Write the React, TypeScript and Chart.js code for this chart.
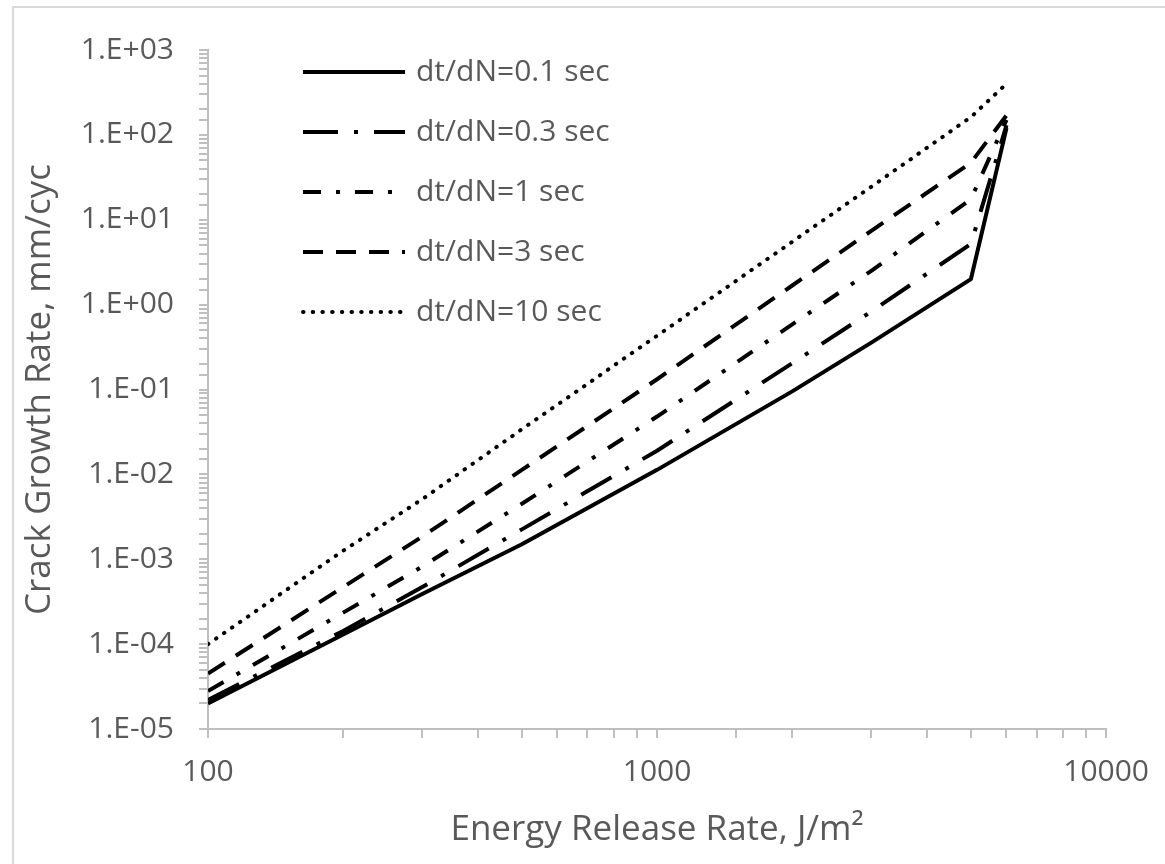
import React, { useEffect, useRef } from "react";
import { Chart, registerables } from "chart.js";

Chart.register(...registerables);

// Energy release rate G, J/m^2
const energyRelease = [100, 200, 300, 500, 1000, 2000, 3000, 5000, 6000];
// Crack growth rate, mm/cyc, for each dt/dN
const rate01 = [2.0e-5, 1.3e-4, 3.9e-4, 1.5e-3, 0.0113, 0.095, 0.357, 2.0, 120];
const rate03 = [2.2e-5, 1.43e-4, 4.7e-4, 2.25e-3, 0.019, 0.204, 0.83, 5.2, 130];
const rate1 = [2.8e-5, 2.35e-4, 8.2e-4, 4.5e-3, 0.048, 0.585, 2.5, 17.5, 150];
const rate3 = [4.5e-5, 4.7e-4, 1.85e-3, 0.0113, 0.132, 1.68, 7.4, 47, 170];
const rate10 = [1.0e-4, 1.26e-3, 5.1e-3, 0.034, 0.43, 5.5, 24.5, 162, 400];

const seriesNames = ["dt/dN=0.1 sec", "dt/dN=0.3 sec", "dt/dN=1 sec", "dt/dN=3 sec", "dt/dN=10 sec"];

const xTickValues = [100, 1000, 10000];
const xTickLabels = ["100", "1000", "10000"];
const yTickValues = [1e-5, 1e-4, 1e-3, 1e-2, 1e-1, 1, 10, 100, 1000];
const yTickLabels = ["1.E-05", "1.E-04", "1.E-03", "1.E-02", "1.E-01", "1.E+00", "1.E+01", "1.E+02", "1.E+03"];

const FONT = "'Open Sans', 'DejaVu Sans', sans-serif";
const TEXT = "#595959";
const AXIS = "#bfbfbf";

function labelFor(value: number, vals: number[], labels: string[]) {
  for (let i = 0; i < vals.length; i++) {
    if (Math.abs(Math.log10(value) - Math.log10(vals[i])) < 1e-6) return labels[i];
  }
  return "";
}

const insideLegend = {
  id: "insideLegend",
  afterDatasetsDraw(chart: any) {
    const ctx = chart.ctx;
    ctx.save();
    chart.data.datasets.forEach((ds: any, i: number) => {
      const y = 72 + i * 60;
      ctx.beginPath();
      ctx.setLineDash(ds.borderDash || []);
      ctx.lineCap = ds.borderCapStyle || "butt";
      ctx.lineWidth = ds.borderWidth;
      ctx.strokeStyle = ds.borderColor;
      ctx.moveTo(303, y);
      ctx.lineTo(405, y);
      ctx.stroke();
      ctx.setLineDash([]);
      ctx.fillStyle = TEXT;
      ctx.font = `30px ${FONT}`;
      ctx.textBaseline = "middle";
      ctx.textAlign = "left";
      ctx.fillText(ds.label, 416, y);
    });
    ctx.restore();
  },
};

export default function App() {
  const ref = useRef<HTMLCanvasElement | null>(null);

  useEffect(() => {
    if (!ref.current) return;
    const mk = (ys: number[]) => energyRelease.map((x, i) => ({ x, y: ys[i] }));
    const styles = [
      { dash: [], cap: "butt" },
      { dash: [35, 16, 4, 16], cap: "butt" },
      { dash: [18, 15, 4, 15], cap: "butt" },
      { dash: [20, 13], cap: "butt" },
      { dash: [0.5, 9.2], cap: "round" },
    ];
    const all = [rate01, rate03, rate1, rate3, rate10];
    const chart = new Chart(ref.current, {
      type: "line",
      data: {
        datasets: all.map((ys, i) => ({
          label: seriesNames[i],
          data: mk(ys),
          borderColor: "#000000",
          backgroundColor: "#000000",
          borderWidth: 4,
          borderDash: styles[i].dash,
          borderCapStyle: styles[i].cap as any,
          borderJoinStyle: "round" as any,
          pointRadius: 0,
          fill: false,
          tension: 0,
        })),
      },
      options: {
        animation: false,
        responsive: false,
        devicePixelRatio: 1,
        layout: { padding: { left: 0, top: 50, right: 57, bottom: 0 } },
        plugins: { legend: { display: false }, tooltip: { enabled: false } },
        scales: {
          x: {
            type: "logarithmic",
            min: 100,
            max: 10000,
            afterFit: (s: any) => {
              s.height = 135;
            },
            grid: { display: true, drawOnChartArea: false, drawTicks: true, tickLength: 9, color: AXIS, lineWidth: 2 },
            border: { display: true, color: AXIS, width: 2 },
            ticks: {
              autoSkip: false,
              maxRotation: 0,
              padding: 16,
              color: TEXT,
              font: { family: FONT, size: 30 },
              callback: (v: any) => labelFor(Number(v), xTickValues, xTickLabels),
            },
            title: {
              display: true,
              text: "Energy Release Rate, J/m²",
              color: TEXT,
              font: { family: FONT, size: 35 },
              padding: { top: 0, bottom: 13 },
            },
          },
          y: {
            type: "logarithmic",
            min: 1e-5,
            max: 1000,
            afterFit: (s: any) => {
              s.width = 208;
            },
            grid: { display: true, drawOnChartArea: false, drawTicks: true, tickLength: 9, color: AXIS, lineWidth: 2 },
            border: { display: true, color: AXIS, width: 2 },
            ticks: {
              autoSkip: false,
              padding: 25,
              color: TEXT,
              font: { family: FONT, size: 30 },
              callback: (v: any) => labelFor(Number(v), yTickValues, yTickLabels),
            },
            title: {
              display: true,
              text: "Crack Growth Rate, mm/cyc",
              color: TEXT,
              font: { family: FONT, size: 35 },
              padding: { top: 19, bottom: 0 },
            },
          },
        },
      },
      plugins: [insideLegend],
    });
    return () => chart.destroy();
  }, []);

  return (
    <div style={{ position: "absolute", left: 0, top: 0, width: 1165, height: 864, overflow: "hidden", background: "#ffffff" }}>
      <div
        style={{
          position: "absolute",
          left: 12,
          top: 6,
          width: 1200,
          height: 900,
          border: "2px solid #d9d9d9",
          boxSizing: "border-box",
        }}
      />
      <canvas ref={ref} width={1165} height={864} style={{ position: "absolute", left: 0, top: 0, width: 1165, height: 864 }} />
    </div>
  );
}
